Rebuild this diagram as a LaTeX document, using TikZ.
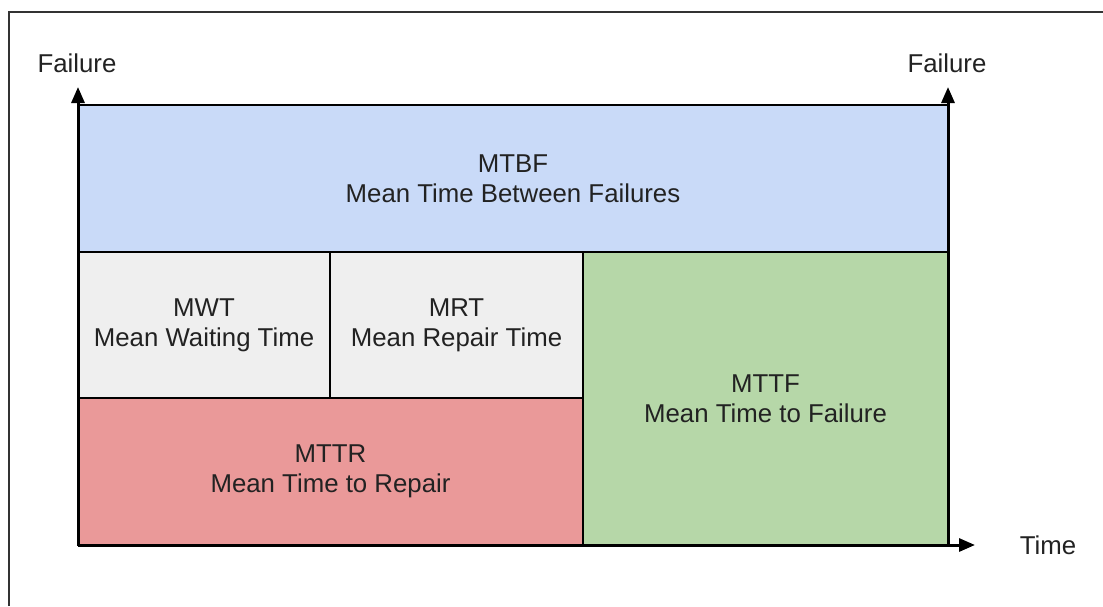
\documentclass[tikz,border=0pt]{standalone}
\usepackage{fontspec}
\setmainfont{Liberation Sans}
\usetikzlibrary{arrows.meta}
\definecolor{mtbfblue}{HTML}{C9DAF8}
\definecolor{waitgray}{HTML}{EFEFEF}
\definecolor{repairred}{HTML}{EA9999}
\definecolor{failgreen}{HTML}{B6D7A8}
\definecolor{txt}{HTML}{222222}
\tikzset{
  box/.style={draw=black, line width=2.8pt, inner sep=0pt, align=center,
              font=\fontsize{25.8}{30}\selectfont, text=txt},
  axis/.style={line width=3pt, -{Triangle[length=16pt,width=13pt]}},
  lbl/.style={font=\fontsize{25.8}{30}\selectfont, text=txt, inner sep=0pt},
  frame/.style={draw=black!80, line width=1.3pt}
}
\begin{document}
\begin{tikzpicture}[x=1pt,y=-1pt]
  \useasboundingbox (0,0) rectangle (1103,606);
  % outer frame (top and left edges)
  \coordinate (fbl) at (9,606);
  \coordinate (ftl) at (9,12);
  \coordinate (ftr) at (1103,12);
  \draw[frame] (fbl) -- (ftl) -- (ftr);

  % interval boxes
  \node[box, fill=mtbfblue, minimum width=870pt, minimum height=147pt] (mtbf)
    at (513,178.5) {MTBF\\Mean Time Between Failures};
  \node[box, fill=waitgray, minimum width=252pt, minimum height=146pt] (mwt)
    at (204,325) {MWT\\Mean Waiting Time};
  \node[box, fill=waitgray, minimum width=253pt, minimum height=146pt] (mrt)
    at (456.5,325) {MRT\\Mean Repair Time};
  \node[box, fill=repairred, minimum width=505pt, minimum height=147pt] (mttr)
    at (330.5,471.5) {MTTR\\Mean Time to Repair};
  \node[box, fill=failgreen, minimum width=365pt, minimum height=293pt] (mttf)
    at (765.5,398.5) {MTTF\\Mean Time to Failure};

  % time axis and failure markers
  \coordinate (origin) at (78,545);
  \coordinate (ltip) at (78,87);
  \coordinate (rbase) at (948,545);
  \coordinate (rtip) at (948,87);
  \coordinate (ttip) at (975,545);
  \draw[axis] (origin) -- (ltip);
  \draw[axis] (rbase) -- (rtip);
  \draw[axis] (origin) -- (ttip);

  \node[lbl] (fl) at (77,63) {Failure};
  \node[lbl] (fr) at (947,63) {Failure};
  \node[lbl] (time) at (1048,545) {Time};
\end{tikzpicture}
\end{document}
